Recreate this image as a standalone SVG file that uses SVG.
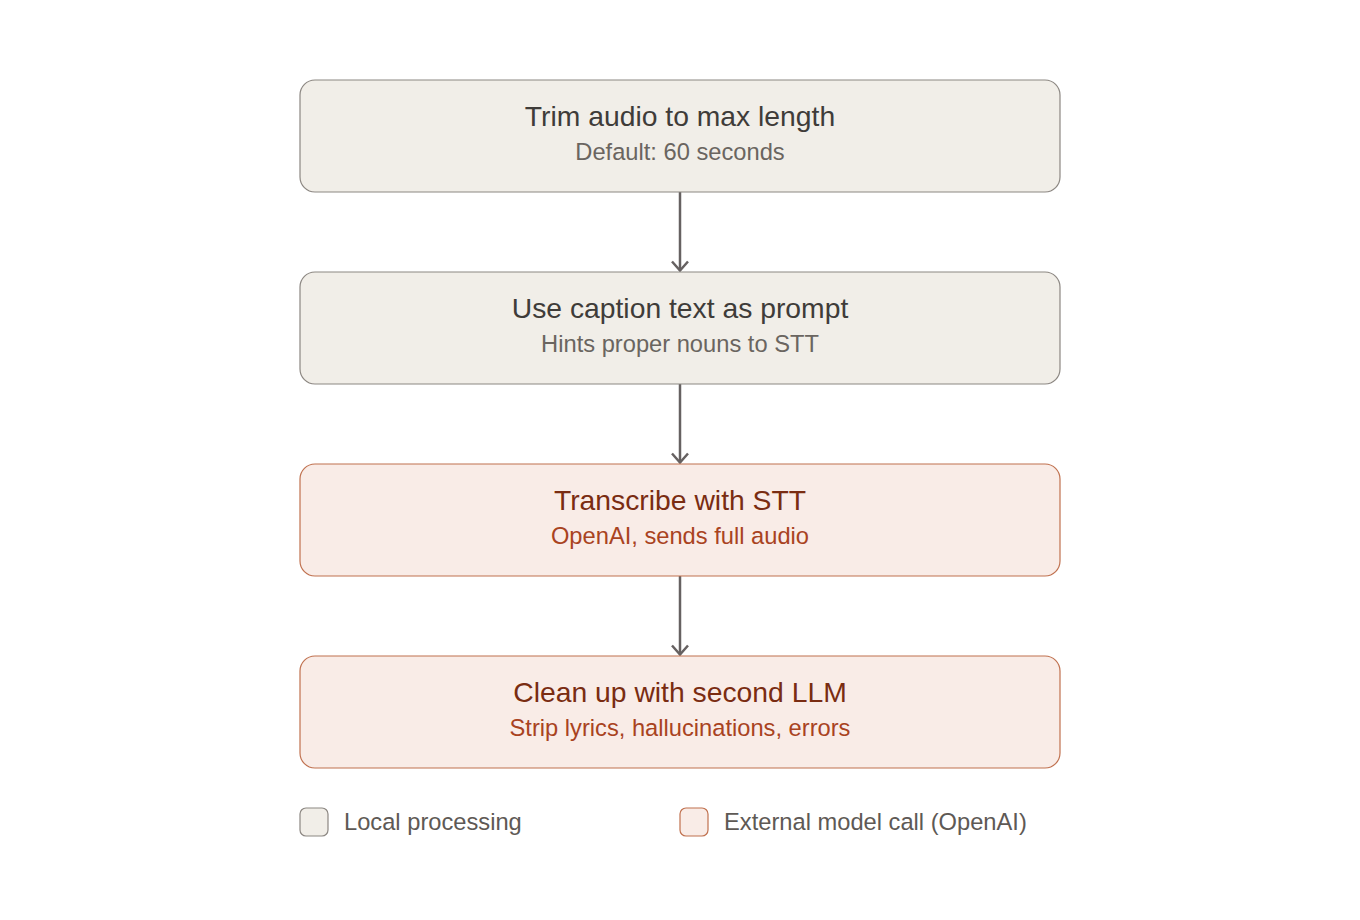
<svg xmlns="http://www.w3.org/2000/svg" width="1360" height="920" viewBox="0 0 1360 920">
<style>
.local{fill:#f1eee8;stroke:#8c8782;stroke-width:1.2}
.ext{fill:#f9ece7;stroke:#c0714f;stroke-width:1.2}
.t{font-family:"Liberation Sans",Arial,sans-serif;font-size:28.3px;text-anchor:middle}
.s{font-family:"Liberation Sans",Arial,sans-serif;font-size:23.7px;text-anchor:middle}
.lt{fill:#3f3c39}.ls{fill:#6a6560}
.et{fill:#7a2c12}.es{fill:#a9431f}
.leg{font-family:"Liberation Sans",Arial,sans-serif;font-size:23.7px;fill:#5e5955}
.c{stroke:#666161;stroke-width:2.5;fill:none}
</style>
<defs>
<marker id="ah" viewBox="0 0 12 20" refX="10.5" refY="10" markerWidth="12" markerHeight="20" markerUnits="userSpaceOnUse" orient="auto">
<path d="M1.5,2 L10.5,10 L1.5,18" fill="none" stroke="#666161" stroke-width="2.5"/>
</marker>
</defs>
<rect width="1360" height="920" fill="#ffffff"/>
<g id="connectors">
<path class="c" d="M680,192 V270.5" marker-end="url(#ah)"/>
<path class="c" d="M680,384 V462.5" marker-end="url(#ah)"/>
<path class="c" d="M680,576 V654.5" marker-end="url(#ah)"/>
</g>
<g id="node-trim">
<rect class="local" x="300" y="80" width="760" height="112" rx="15"/>
<text class="t lt" x="680" y="126">Trim audio to max length</text>
<text class="s ls" x="680" y="160">Default: 60 seconds</text>
</g>
<g id="node-caption">
<rect class="local" x="300" y="272" width="760" height="112" rx="15"/>
<text class="t lt" x="680" y="318">Use caption text as prompt</text>
<text class="s ls" x="680" y="352">Hints proper nouns to STT</text>
</g>
<g id="node-transcribe">
<rect class="ext" x="300" y="464" width="760" height="112" rx="15"/>
<text class="t et" x="680" y="510">Transcribe with STT</text>
<text class="s es" x="680" y="544">OpenAI, sends full audio</text>
</g>
<g id="node-cleanup">
<rect class="ext" x="300" y="656" width="760" height="112" rx="15"/>
<text class="t et" x="680" y="702">Clean up with second LLM</text>
<text class="s es" x="680" y="736">Strip lyrics, hallucinations, errors</text>
</g>
<g id="legend">
<rect class="local" x="300" y="808" width="28" height="28" rx="6"/>
<text class="leg" x="344" y="830">Local processing</text>
<rect class="ext" x="680" y="808" width="28" height="28" rx="6"/>
<text class="leg" x="724" y="830">External model call (OpenAI)</text>
</g>
</svg>
